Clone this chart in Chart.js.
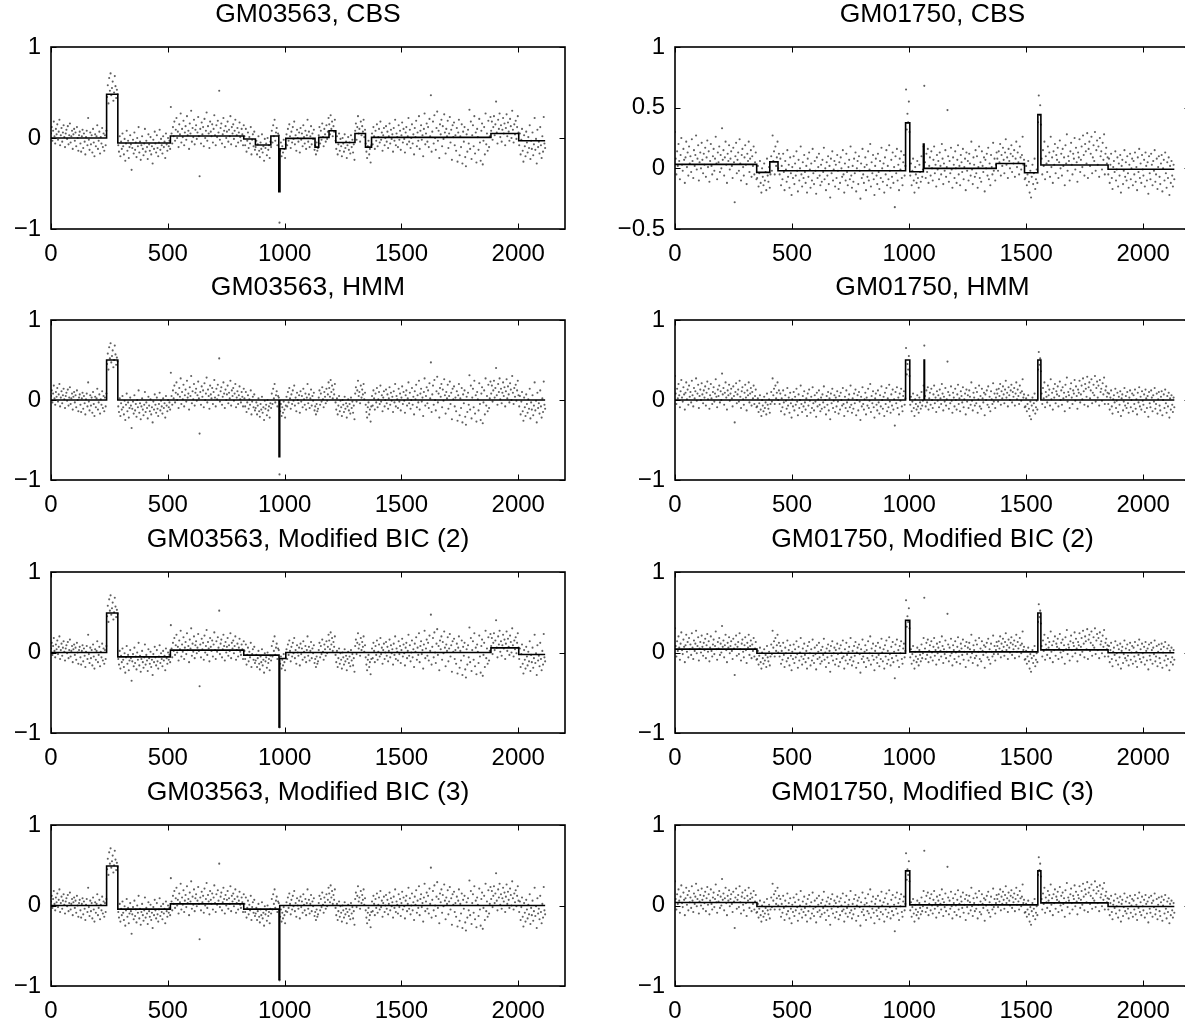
<!DOCTYPE html>
<html>
<head>
<meta charset="utf-8">
<title>Array CGH segmentation: GM03563 and GM01750</title>
<script src="https://cdn.jsdelivr.net/npm/chart.js@4.4.0/dist/chart.umd.min.js"></script>
<style>
  html, body { margin: 0; padding: 0; background: #fff; }
  body { width: 1185px; height: 1025px; overflow: hidden; position: relative; }
  canvas { position: absolute; }
</style>
</head>
<body>
<script>
// clones are plotted every DOT_STEP along the genome index
const DOT_STEP = 3;
const xTicks = [0, 500, 1000, 1500, 2000];
const yTicks = [-1, 0, 1];
const yTicksCbs01750 = [-0.5, 0, 0.5, 1];

// log2 ratios, in hundredths
const dotsGM03563 = [
  5, 12, -3, 8, 18, 2, -6, 10, 4, 15, -2, 7, 20, -8, 3, 11, -4, 6, 14, 1,
  -10, 5, 9, -1, 13, -7, 3, 16, -5, 2, 8, -12, 4, 10, -3, 6, -9, 12, 0, -14,
  3, 7, -6, -15, 2, 9, -11, 5, -4, -18, 1, 8, -8, 22, -2, -13, 6, -7, 3, -16,
  10, -5, -20, 4, -9, 2, 14, -12, -3, 7, -17, 1, -6, 11, -10, 5, -14, 3, -8, 8,
  45, 58, 38, 66, 52, 71, 47, 55, 62, 41, 50, 68, 57, 44, 53, 48,
  -8, -15, 2, -20, -4, -12, 5, -9, -18, -1, -25, -6, 8, -14, -3, -22, -10, 3, -7, -35,
  -11, -2, -17, 6, -13, -5, -21, 0, -9, 12, -16, -4, -24, -8, 2, -12, -19, -6, 10, -15,
  -3, -10, -23, 4, -7, -14, 1, -18, -9, -28, -2, -12, 7, -6, -16, 3, -11, -20, -5, 9,
  -13, -1, -8, -17, 2, -10, -4, -22, 5, -7, -14, 0, -9, -3, -12,
  34, 5, -6, 12, 2, 18, -3, 9, 22, 0, 7, -10, 15, 4, 27, -5, 10, 1, 19, -8,
  6, 13, -2, 24, 3, 8, -12, 16, 5, 30, -4, 11, 1, 20, -7, 9, 14, -1, 6, 23,
  2, -42, 10, -6, 17, 4, 12, -9, 21, 0, 8, 28, -3, 13, 5, -11, 18, 7, 2, 15,
  -5, 10, 25, 3, -8, 14, 1, 19, 6, 52, -2, 11, 16, -6, 4, 22, 8, -10, 13, 0,
  7, 18, -4, 9, 2, 24, -7, 12, 5, 15, -1, 8, 20, -9, 3, 11, -5, 6, 17, 1, -3, 10, 4, -8, 14,
  2, -8, 10, -15, -3, 6, -11, 1, -6, 12, -18, -2, 4, -9, 7, -13,
  -10, -3, -18, -7, 2, -14, -21, -5, -12, 4, -16, -9, -25, -1, -11, -6, -19, 0, -13, -8, -22, -4, -10,
  8, -5, 14, 2, 20, -3, 6, 11, -8, 5,
  3, -93,
  -14, -5, -20, -9, -16, -2, -12, -22, -7,
  4, -8, 10, -3, 15, 2, -11, 7, -5, 12, -1, 18, -7, 3, -14, 9, 0, -4, 6, -16,
  11, -2, 5, -9, 14, 1, -6, 8, -12, 3, 20, -4, 7, -10, 2, 13, -7, 5, -1, 9, -13,
  -8, -18, -5, -14, -11,
  3, 12, -6, 8, -2, 16, 1, -9, 10, 4, -4, 14, -1, 7, 22,
  15, 4, 25, 10, 18, 2, 13, 7, 20,
  -3, -12, 2, -18, -7, 5, -14, -1, -9, -20, 0, -6, -15, 4, -11, -4, -22, -8, 1, -13, -5, -17, 3, -10, -2, -16, -7, -24,
  8, 16, -2, 12, 24, 5, 10, -4, 18, 3, 13, 7, 20, 1, 9,
  -6, -15, -22, -9, -3, -18, -12, -27, -8,
  5, -7, 12, 2, -12, 8, -3, 15, -9, 1, 10, -5, 18, -2, 6, -14, 3, 11, -8, 0,
  13, -4, 7, -11, 2, 16, -6, 9, -1, 4, -15, 11, -3, 20, -8, 5, 1, -10, 14, -2,
  8, -13, 3, 17, -5, 10, -1, -16, 6, 12, -7, 2, 22, -4, 9, -11, 0, 15, -6, 4,
  -18, 11, 1, 19, -9, 6, -3, 24, -12, 8, 14, -2, 3, -20, 10, 27, -7, 5, 16, -4,
  12, -10, 21, 2, 47, -15, 7, 18, -6, 25, 0, -13, 11, 29, -3, 8, -22, 15, 4, 20,
  -9, 13, -1, 26, 6, -17, 10, 2, 19, -11, 5, 23, -5, 9, -24, 14, 1, 17, -8, 3,
  -14, 11, -26, 6, 20, -19, 2, -10, 15, -28, 7, -4, 12, -21, -31, 4, -15, 9, -6, 31,
  -12, 18, -23, 3, 14, -9, 24, -17, 6, -27, 10, 1, -13, 21, -5, -25, 8, 16, -29, -3,
  12, -18, 27, -7, 5, -14, 19, -10, 2, 23,
  8, 18, -2, 12, 24, 3, 15, 40, 6, -6, 20, 10, 27, 1, 14, -4, 9, 22, 5, 16,
  -8, 11, 26, 2, 17, 7, -3, 21, 13, 0, 30, 9, -5, 15, 4, 19, -1, 12, 24, 6,
  -8, 5, -18, -2, 10, -14, -26, 3, -9, -20, 7, -5, -16, 1, -11, 14, -23, -3, -12, 6,
  -19, -7, 22, -13, -1, -28, 9, -10, -4, -17, 12, -8, -22, 2, -15, 23, -6, -11
];

const dotsGM01750 = [
  30, 8, -5, 14, 2, 20, 6, -9, 11, 25, 3, -2, 16, 7, -12, 9, 22, 1, 13, -6,
  18, 4, 10, -3, 24, 6, -8, 15, 2, 11, 27, -1, 8, 19, -10, 5, 13, 0, 21, 7,
  -4, 12, 3, 17, -7, 9, 23, 1, 14, -11, 6, 20, 2, -5, 10, 16, -2, 8, 26, 4,
  -9, 13, 5, 18, -3, 11, 0, 33, 7, 15, -6, 9, 22, 3, -12, 12, 6, 19, -1, 8,
  14, 2, -8, 17, 5, -28, 10, 21, -4, 7, 13, -2, 24, 4, -10, 11, 16, 1, -6, 9,
  19, 3, -13, 12, 6, 22, -3, 8, 15, -7, 10, 2, 18, -5, 5, 13, -9,
  -8, 2, -15, -4, 6, -12, -20, 0, -7, -14, 4, -10, -3, -18, 8, -6, -11, 1, -16, -5,
  10, -2, 27, 6, 14, -5, 18, 2, 9, 22, 0, 12,
  -5, 8, -14, 2, -9, 12, -3, -18, 6, -1, -11, 15, -7, 3, -16, 9, -4, -22, 1, -8,
  10, -13, 4, -6, 14, -2, -19, 7, -10, 0, 18, -5, -15, 5, -8, 11, -3, -12, 2, -20,
  8, -7, 13, -1, -16, 4, -10, 16, -4, -13, 6, -2, -21, 9, -8, 1, 12, -6, -14, 3,
  -11, 7, -3, 17, -9, 0, -18, 5, -6, 10, -13, 2, -24, 8, -4, 14, -10, -1, 6, -15,
  3, -8, 11, -2, -17, 5, -12, 9, 0, -7, 15, -5, -20, 4, -10, 12, -3, -14, 1, 7,
  -9, 18, -6, -16, 2, -11, 8, -4, 13, -19, 0, 6, -13, 10, -2, -25, 4, -8, 16, -5,
  -12, 1, 9, -18, 3, -7, 14, -10, -1, 20, -15, 5, -4, 11, -9, -22, 2, 8, -6, -13,
  12, -3, -17, 6, -8, 17, 0, -11, 4, -20, 9, -5, 15, -14, 2, -9, 19, -2, -16, 7,
  -7, 13, -12, 1, -32, 10, -4, 16, -10, 3, -18, 8, -1, 14, -8, -14, 5, 11, -6, 2,
  65, 32, 45, 38, 55, 30,
  -6, 4, -14, -2, 8, -10, -20, 1, -5, -12, 6, -8, -16, 3, -3, -11, 10, -7, -1,
  18, 68,
  5, -8, 12, -3, 16, -12, 2, 9, -6, 14, 0, -10, 7, 18, -4, 3, -15, 11, -1, 6,
  -9, 13, 2, -5, 20, 8, -13, 4, -2, 15, -7, 1, 48, 10, -11, 6, -4, 17, -1, -16,
  9, 3, -8, 14, 0, -12, 7, 19, -5, 2, -14, 11, 5, -3, 16, -9, 1, 8, -18, 13,
  -2, 6, -10, 12, 4, -6, 22, -1, -13, 9, 3, -7, 15, -4, 10, -16, 1, 18, -8, 5,
  -11, 14, 2, -3, 9, -19, 7, 0, 12, -6, 17, -9, 4, -14, 11, 1, -5, 21, -2, 8,
  -10, 3, 13,
  8, -2, 14, 5, 20, -6, 11, 2, 17, 7, -4, 13, 24, 3, 9, -8, 16, 6, 0, 12,
  19, -3, 10, 4, 15, -7, 8, 22, 1, 13, 5, -5, 18, 9, -1, 11, 26, 3, 7, -9,
  -8, 2, -14, -5, 6, -11, -20, -2, -24, -7, 3, -13, -4, 8, -17, -9, -1, -12,
  38, 60, 44, 52, 36,
  8, -5, 15, 2, 22, -9, 10, 4, -3, 18, 6, 13, -7, 26, 1, 9, -12, 14, 3, 20,
  -4, 11, 7, 17, -8, 5, 23, 0, 12, -6, 16, 2, 9, -14, 19, 4, 28, -2, 10, 6,
  -10, 14, 21, 3, -5, 12, 8, 25, -1, 17, 5, -11, 13, 9, 24, -3, 7, 18, 1, 27,
  11, -6, 20, 14, 4, 29, -8, 16, 22, 2, 12, 26, -4, 9, 19, 6, 30, -2, 15, 23,
  3, 18, -7, 25, 10, 14, -1, 21, 7, 28, -5, 12, 17, 4, 9,
  -5, 8, -12, 3, 12, -8, -17, 1, 6, -3, 14, -10, -1, 9, -15, 4, -6, 11, -20, 2,
  7, -13, -2, 15, -7, 5, -10, 10, -4, -16, 3, 12, -9, 0, 8, -14, 6, -5, 13, -11,
  1, -18, 9, -3, 16, -8, 4, -12, 11, -1, -6, 7, -15, 13, 2, -10, 5, -21, 10, -4,
  -9, 12, 3, -14, 6, -2, 15, -11, -5, 8, -17, 1, 10, -7, -13, 4, 11, -19, 0, 7,
  -10, 13, -4, -16, 5, -8, 9, -22, 2, -12, 6, -6, -15, 3, -9
];

const endGM03563 = 2115;
const endGM01750 = 2133;

// segment start positions and segment means for each method
const cbs03563Starts = [0, 238, 286, 511, 825, 875, 941, 975, 980, 1005, 1130, 1146, 1190, 1219, 1301, 1346, 1372, 1883, 2002];
const cbs03563Levels = [0, 0.48, -0.055, 0.022, -0.011, -0.077, 0.022, -0.59, -0.118, -0.004, -0.10, 0.007, 0.08, -0.05, 0.05, -0.10, 0.007, 0.05, -0.03];
const hmm03563Starts = [0, 238, 286, 976, 979];
const hmm03563Levels = [0, 0.5, 0, -0.71, 0];
const bic2_03563Starts = [0, 238, 286, 511, 825, 976, 979, 1005, 1883, 2002];
const bic2_03563Levels = [0, 0.49, -0.054, 0.03, -0.033, -0.925, -0.075, 0, 0.058, -0.025];
const bic3_03563Starts = [0, 238, 286, 511, 825, 976, 979];
const bic3_03563Levels = [0, 0.49, -0.045, 0.02, -0.045, -0.92, 0];

const cbs01750Starts = [0, 349, 405, 440, 985, 1003, 1061, 1064, 1372, 1493, 1550, 1563, 1850];
const cbs01750Levels = [0.033, -0.033, 0.053, -0.02, 0.375, -0.028, 0.2, 0, 0.04, -0.036, 0.444, 0.028, -0.008];
const hmm01750Starts = [0, 985, 1003, 1064, 1066, 1550, 1563];
const hmm01750Levels = [0, 0.5, 0, 0.5, 0, 0.5, 0];
const bic2_01750Starts = [0, 350, 985, 1003, 1550, 1563, 1850];
const bic2_01750Levels = [0.042, -0.01, 0.4, 0.008, 0.49, 0.033, -0.004];
const bic3_01750Starts = [0, 350, 985, 1003, 1550, 1563, 1850];
const bic3_01750Levels = [0.037, -0.012, 0.43, 0.008, 0.43, 0.033, -0.012];

const panels = [
  { title: 'GM03563, CBS', col: 0, row: 0, dots: dotsGM03563, end: endGM03563, starts: cbs03563Starts, levels: cbs03563Levels, yMin: -1, yTicks: yTicks },
  { title: 'GM01750, CBS', col: 1, row: 0, dots: dotsGM01750, end: endGM01750, starts: cbs01750Starts, levels: cbs01750Levels, yMin: -0.5, yTicks: yTicksCbs01750 },
  { title: 'GM03563, HMM', col: 0, row: 1, dots: dotsGM03563, end: endGM03563, starts: hmm03563Starts, levels: hmm03563Levels, yMin: -1, yTicks: yTicks },
  { title: 'GM01750, HMM', col: 1, row: 1, dots: dotsGM01750, end: endGM01750, starts: hmm01750Starts, levels: hmm01750Levels, yMin: -1, yTicks: yTicks },
  { title: 'GM03563, Modified BIC (2)', col: 0, row: 2, dots: dotsGM03563, end: endGM03563, starts: bic2_03563Starts, levels: bic2_03563Levels, yMin: -1, yTicks: yTicks },
  { title: 'GM01750, Modified BIC (2)', col: 1, row: 2, dots: dotsGM01750, end: endGM01750, starts: bic2_01750Starts, levels: bic2_01750Levels, yMin: -1, yTicks: yTicks },
  { title: 'GM03563, Modified BIC (3)', col: 0, row: 3, dots: dotsGM03563, end: endGM03563, starts: bic3_03563Starts, levels: bic3_03563Levels, yMin: -1, yTicks: yTicks },
  { title: 'GM01750, Modified BIC (3)', col: 1, row: 3, dots: dotsGM01750, end: endGM01750, starts: bic3_01750Starts, levels: bic3_01750Levels, yMin: -1, yTicks: yTicks }
];

// page layout: plot box top/bottom per row, canvas placement per column
const rowBox = [[47, 229], [320, 480], [572, 733], [825, 986]];
const colBox = [{ left: 0, width: 585, axisW: 51 }, { left: 600, width: 610, axisW: 75 }];
const RIGHT_PAD = 20;
const TITLE_H = 48;
const XAXIS_H = 40;
const TICK_LEN = 5.5;
const FAMILY = '"Liberation Sans", Arial, Helvetica, sans-serif';
const TICK_FONT = { family: FAMILY, size: 24, weight: 'normal', lineHeight: 1.2 };
const TITLE_FONT = { family: FAMILY, size: 26.5, weight: 'normal', lineHeight: 1.2 };

const minusSign = v => String(v).replace('-', '\u2212');

// inward ticks on all four sides plus the closed box
const boxTicks = {
  id: 'boxTicks',
  afterDatasetsDraw(chart) {
    const { ctx, chartArea: a, scales: { x, y } } = chart;
    ctx.save();
    ctx.strokeStyle = '#000';
    ctx.lineWidth = 1;
    ctx.beginPath();
    x.ticks.forEach(t => {
      const px = Math.round(x.getPixelForValue(t.value)) + 0.5;
      ctx.moveTo(px, a.top); ctx.lineTo(px, a.top + TICK_LEN);
      ctx.moveTo(px, a.bottom); ctx.lineTo(px, a.bottom - TICK_LEN);
    });
    y.ticks.forEach(t => {
      const py = Math.round(y.getPixelForValue(t.value)) + 0.5;
      ctx.moveTo(a.left, py); ctx.lineTo(a.left + TICK_LEN, py);
      ctx.moveTo(a.right, py); ctx.lineTo(a.right - TICK_LEN, py);
    });
    ctx.stroke();
    ctx.lineWidth = 1.6;
    ctx.strokeRect(a.left, a.top, a.right - a.left, a.bottom - a.top);
    ctx.restore();
  }
};

function stepPoints(starts, levels, end) {
  const pts = starts.map((s, i) => ({ x: s, y: levels[i] }));
  pts.push({ x: end, y: levels[levels.length - 1] });
  return pts;
}

function dotPoints(dots) {
  return dots.map((v, i) => ({ x: i * DOT_STEP, y: v / 100 }));
}

panels.forEach(p => {
  const col = colBox[p.col];
  const [boxTop, boxBottom] = rowBox[p.row];
  const canvas = document.createElement('canvas');
  const h = TITLE_H + (boxBottom - boxTop) + XAXIS_H;
  canvas.width = col.width;
  canvas.height = h;
  canvas.style.width = col.width + 'px';
  canvas.style.height = h + 'px';
  canvas.style.left = col.left + 'px';
  canvas.style.top = (boxTop - TITLE_H) + 'px';
  document.body.appendChild(canvas);

  new Chart(canvas, {
    type: 'scatter',
    data: {
      datasets: [
        {
          type: 'line',
          data: stepPoints(p.starts, p.levels, p.end),
          stepped: true,
          borderColor: '#000',
          borderWidth: 1.6,
          pointRadius: 0,
          fill: false,
          order: 0
        },
        {
          data: dotPoints(p.dots),
          pointRadius: 1.05,
          pointBackgroundColor: 'rgba(55,55,55,0.8)',
          pointBorderWidth: 0,
          order: 1
        }
      ]
    },
    options: {
      responsive: false,
      animation: false,
      devicePixelRatio: 1,
      layout: { padding: { left: 0, right: RIGHT_PAD, top: 0, bottom: 0 } },
      plugins: {
        legend: { display: false },
        tooltip: { enabled: false },
        title: {
          display: true,
          text: p.title,
          fullSize: false,
          color: '#000',
          font: TITLE_FONT,
          padding: { top: 0, bottom: TITLE_H - TITLE_FONT.size * TITLE_FONT.lineHeight }
        }
      },
      scales: {
        x: {
          type: 'linear',
          min: 0,
          max: 2200,
          afterBuildTicks: s => { s.ticks = xTicks.map(v => ({ value: v })); },
          afterFit: s => { s.height = XAXIS_H; },
          grid: { display: false, drawTicks: false },
          border: { display: false },
          ticks: { padding: 11, color: '#000', font: TICK_FONT, maxRotation: 0, autoSkip: false, callback: v => String(v) }
        },
        y: {
          type: 'linear',
          min: p.yMin,
          max: 1,
          afterBuildTicks: s => { s.ticks = p.yTicks.map(v => ({ value: v })); },
          afterFit: s => { s.width = col.axisW; },
          grid: { display: false, drawTicks: false },
          border: { display: false },
          ticks: { padding: 10, color: '#000', font: TICK_FONT, callback: v => minusSign(v) }
        }
      }
    },
    plugins: [boxTicks]
  });
});
</script>
</body>
</html>
